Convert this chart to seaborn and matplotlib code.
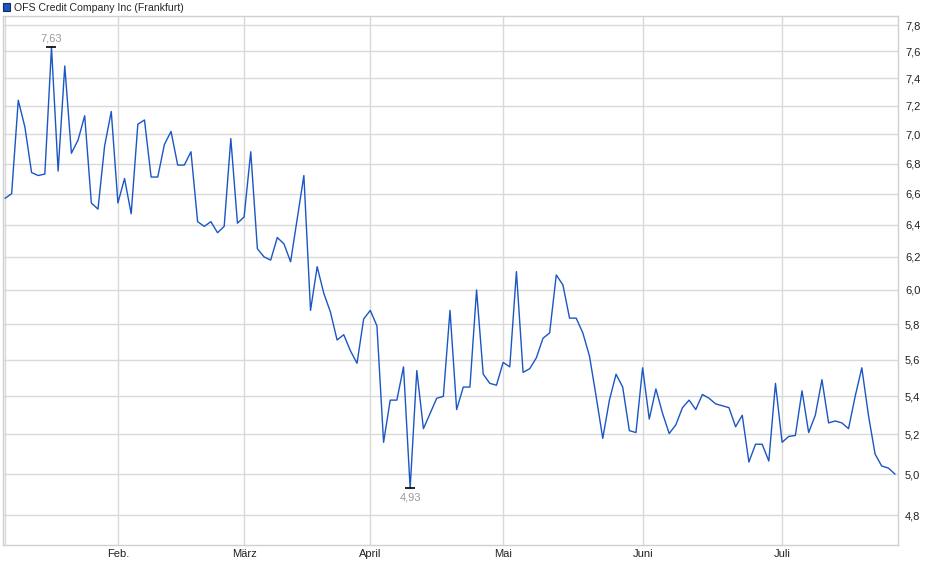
import numpy as np
import pandas as pd
import matplotlib
matplotlib.use("Agg")
import matplotlib.pyplot as plt
from matplotlib.patches import Patch
from matplotlib.ticker import FixedLocator, FuncFormatter, NullLocator
import seaborn as sns

# ---------------- data ----------------
title = "OFS Credit Company Inc (Frankfurt)"
prices = [
    6.57, 6.60, 7.24, 7.05, 6.74, 6.72, 6.73, 7.63, 6.75, 7.49,
    6.87, 6.96, 7.13, 6.54, 6.50, 6.92, 7.16, 6.54, 6.70, 6.47,
    7.07, 7.10, 6.71, 6.71, 6.93, 7.02, 6.79, 6.79, 6.88, 6.42,
    6.39, 6.42, 6.35, 6.39, 6.97, 6.41, 6.45, 6.88, 6.25, 6.20,
    6.18, 6.32, 6.28, 6.17, 6.44, 6.72, 5.88, 6.14, 5.98, 5.87,
    5.71, 5.74, 5.65, 5.58, 5.83, 5.88, 5.79, 5.16, 5.38, 5.38,
    5.56, 4.93, 5.54, 5.23, 5.31, 5.39, 5.40, 5.88, 5.33, 5.45,
    5.45, 6.00, 5.52, 5.47, 5.46, 5.585, 5.56, 6.11, 5.53, 5.55,
    5.61, 5.72, 5.75, 6.09, 6.03, 5.835, 5.835, 5.75, 5.62, 5.40,
    5.18, 5.38, 5.52, 5.45, 5.22, 5.21, 5.555, 5.28, 5.44, 5.31,
    5.205, 5.25, 5.34, 5.38, 5.33, 5.41, 5.39, 5.36, 5.35, 5.34,
    5.24, 5.30, 5.06, 5.15, 5.15, 5.065, 5.47, 5.16, 5.19, 5.195,
    5.43, 5.21, 5.30, 5.49, 5.26, 5.27, 5.26, 5.23, 5.40, 5.555,
    5.30, 5.10, 5.04, 5.03, 5.00,
]
month_labels = ["Feb.", "März", "April", "Mai", "Juni", "Juli"]
month_index = [17, 36, 55, 75, 96, 117]   # trading-day index where each month starts
y_ticks = [4.8, 5.0, 5.2, 5.4, 5.6, 5.8, 6.0, 6.2, 6.4, 6.6, 6.8, 7.0, 7.2, 7.4, 7.6, 7.8]

df = pd.DataFrame({"idx": np.arange(len(prices)), "price": prices})

# ---------------- style ----------------
sns.set_style("white")
plt.rcParams["font.family"] = ["Liberation Sans", "DejaVu Sans"]

W, H = 940, 579
fig = plt.figure(figsize=(W / 100, H / 100), dpi=100)
left, right, top, bottom = 3, 898, 16, 545
ax = fig.add_axes([left / W, 1 - bottom / H, (right - left) / W, (bottom - top) / H])

line_color = "#1a56c4"
grid_color = "#d9d9d9"

sns.lineplot(data=df, x="idx", y="price", ax=ax, color=line_color, linewidth=1.0,
             legend=False, zorder=3)

ax.set_yscale("log")
ax.set_ylim(4.661, 7.870)
ax.set_xlim(-0.3, 134.45)

ax.yaxis.set_major_locator(FixedLocator(y_ticks))
ax.yaxis.set_minor_locator(NullLocator())
ax.yaxis.set_major_formatter(FuncFormatter(lambda v, p: f"{v:.1f}".replace(".", ",")))
ax.yaxis.tick_right()
ax.set_xticks(month_index)
ax.set_xticklabels(month_labels)
ax.set_xlabel("")
ax.set_ylabel("")

ax.grid(True, color=grid_color, linewidth=1.0, zorder=0)
ax.axvline(0, color=grid_color, linewidth=1.0, zorder=0)
ax.tick_params(axis="both", length=0, labelsize=8, colors="#222222")
ax.tick_params(axis="y", pad=5)
ax.tick_params(axis="x", pad=3)
for s in ax.spines.values():
    s.set_color("#d0d0d0")
    s.set_linewidth(1.0)

# high / low markers
arr = np.array(prices)
hi, lo = int(arr.argmax()), int(arr.argmin())
for i, off, va in [(hi, 2.5, "bottom"), (lo, -3, "top")]:
    ax.plot([i], [prices[i]], marker="_", markersize=7, markeredgewidth=1.2,
            color="black", zorder=4)
    ax.annotate(f"{prices[i]:.2f}".replace(".", ","), (i, prices[i]),
                xytext=(0, off), textcoords="offset points", ha="center", va=va,
                fontsize=8, color="#9a9a9a")

# legend
handle = Patch(facecolor=line_color, edgecolor="#1a2a55", linewidth=0.8)
leg = ax.legend([handle], [title], loc="lower left", bbox_to_anchor=(-0.002, 1.003),
                frameon=False, fontsize=7.6, handlelength=0.7, handleheight=0.7,
                handletextpad=0.4, borderaxespad=0.0, borderpad=0.15)

fig.savefig("out.png", dpi=100)
